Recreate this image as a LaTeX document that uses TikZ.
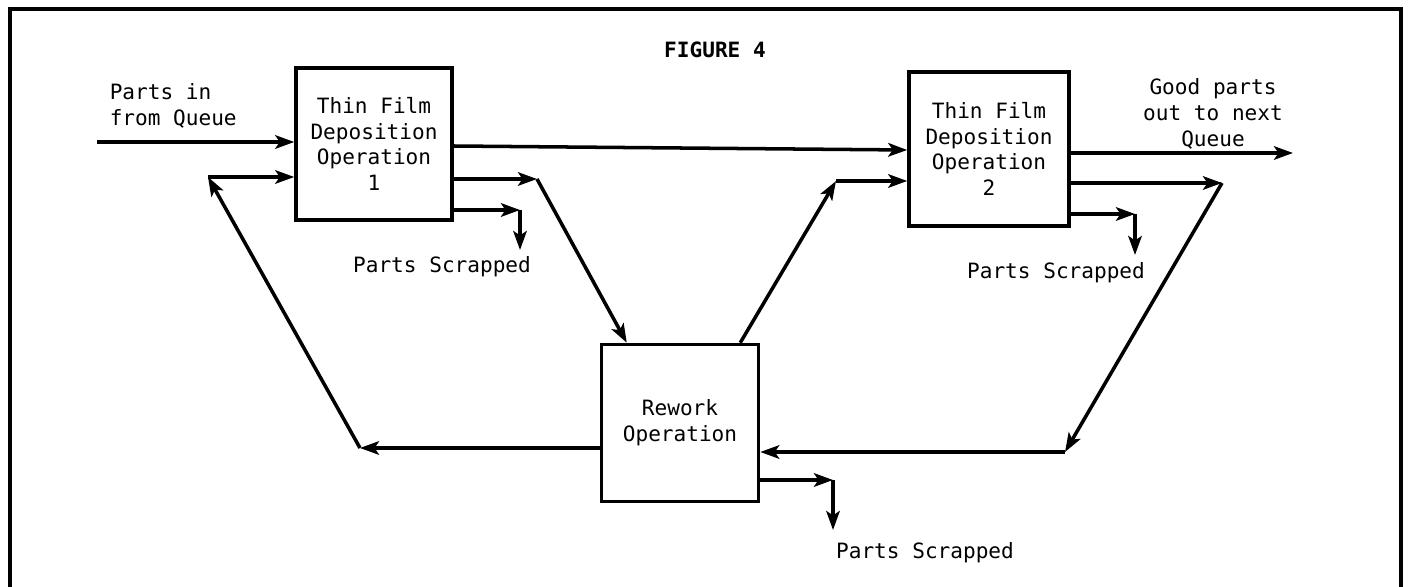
\documentclass[tikz,border=0pt]{standalone}
\usepackage{fontspec}
\newfontfamily\typefont{DejaVu Sans Mono}
\usetikzlibrary{arrows.meta,calc}

\begin{document}
\begin{tikzpicture}[x=0.02cm,y=-0.02cm,
line width=2pt,
opbox/.style={draw,line width=2pt,align=center,font=\typefont\fontsize{12}{14.7}\selectfont,inner sep=0pt},
lbl/.style={align=center,font=\typefont\fontsize{12}{14.7}\selectfont,inner sep=0pt},
arrow/.style={-{Stealth[length=3.8mm,width=2.7mm,inset=0.9mm]}}
]
\useasboundingbox (0,0) rectangle (1408,587);
\draw (10,587) -- (10,9) -- (1401,9) -- (1401,587);

\node[lbl,font=\typefont\bfseries\fontsize{12}{14.7}\selectfont] (title) at (715,50) {FIGURE 4};
\node[opbox,minimum width=3.12cm,minimum height=3.04cm] (op1) at (374,144) {Thin Film\\Deposition\\Operation\\1};
\node[opbox,minimum width=3.2cm,minimum height=3.08cm] (op2) at (989,149) {Thin Film\\Deposition\\Operation\\2};
\node[opbox,minimum width=3.14cm,minimum height=3.14cm] (rework) at (680,423) {Rework\\Operation};

\node[lbl,align=left,anchor=west] (qinlbl) at (108,106) {Parts in\\from Queue};
\node[lbl] (qoutlbl) at (1213,114) {Good parts\\out to next\\Queue};
\node[lbl] (scr1lbl) at (442,267) {Parts Scrapped};
\node[lbl] (scr2lbl) at (1056,273) {Parts Scrapped};
\node[lbl] (scr3lbl) at (925,553) {Parts Scrapped};

\coordinate (qin) at (97,142);
\coordinate (fbtop) at (208,177);
\coordinate (fbbot) at (360,448);
\coordinate (out1) at (537,179);
\coordinate (scrap1) at (520,210);
\coordinate (scrap1end) at (520,250);
\coordinate (up2) at (836,181);
\coordinate (qout) at (1293,153);
\coordinate (out2) at (1222,183);
\coordinate (fbright) at (1065,452);
\coordinate (scrap2) at (1135,214);
\coordinate (scrap2end) at (1135,255);
\coordinate (scrap3) at (833,480);
\coordinate (scrap3end) at (833,530);

\draw[arrow] (qin) -- (qin -| op1.west);
\draw[arrow] (fbtop) -- (fbtop -| op1.west);
\draw[arrow] (rework.west |- fbbot) -- (fbbot);
\draw[arrow] (fbbot) -- (fbtop);
\draw[arrow] (out1 -| op1.east) -- (out1);
\draw[arrow] (out1) -- ($(rework.north west)+(27,0)$);
\draw[arrow] (scrap1 -| op1.east) -- (scrap1);
\draw[arrow] (scrap1) -- (scrap1end);
\draw[arrow] ($(op1.east)+(0,2)$) -- ($(op2.west)+(0,1)$);
\draw[arrow] ($(rework.north east)+(-20,0)$) -- (up2);
\draw[arrow] (up2) -- (up2 -| op2.west);
\draw[arrow] (qout -| op2.east) -- (qout);
\draw[arrow] (out2 -| op2.east) -- (out2);
\draw[arrow] (out2) -- (fbright);
\draw[arrow] (fbright) -- (fbright -| rework.east);
\draw[arrow] (scrap2 -| op2.east) -- (scrap2);
\draw[arrow] (scrap2) -- (scrap2end);
\draw[arrow] (scrap3 -| rework.east) -- (scrap3);
\draw[arrow] (scrap3) -- (scrap3end);
\end{tikzpicture}
\end{document}
